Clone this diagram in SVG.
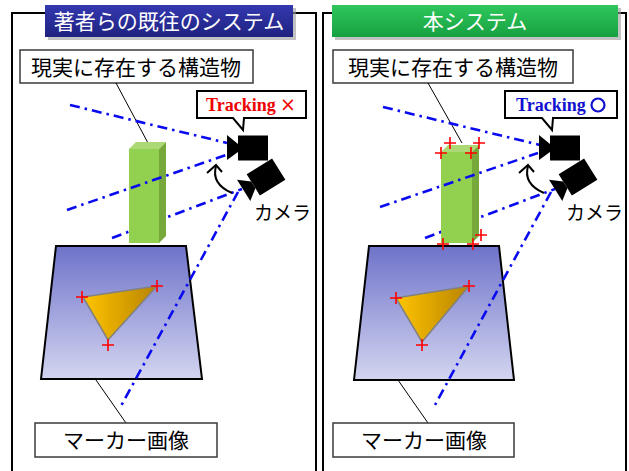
<svg xmlns="http://www.w3.org/2000/svg" width="629" height="471" viewBox="0 0 629 471">
  <style>
    .panel { fill: #ffffff; stroke: #000000; stroke-width: 2; }
    .label { fill: #ffffff; stroke: #3a3a3a; stroke-width: 1.5; }
    .jp { font-family: "Noto Sans CJK JP", "Noto Sans", sans-serif; fill: #000000; }
    .title { font-family: "Noto Sans CJK JP", "Noto Sans", sans-serif; fill: #ffffff; font-size: 21px; }
    .leader { stroke: #000000; stroke-width: 1; fill: none; }
    .ray { stroke: #0a0af0; stroke-width: 2.6; fill: none; stroke-dasharray: 10 5 2.5 5; }
    .cross { stroke: #ff0000; stroke-width: 1.6; fill: none; }
    .callout { fill: #ffffff; stroke: #000000; stroke-width: 2; stroke-linejoin: miter; }
    .track { font-family: "Liberation Serif", serif; font-weight: bold; font-size: 18px; }
    .sym { font-family: "DejaVu Sans", sans-serif; font-size: 19px; }
    .turn { stroke: #000000; stroke-width: 2; fill: none; }
  </style>
  <defs>
    <linearGradient id="markerFill" x1="0" y1="0" x2="0" y2="1">
      <stop offset="0" stop-color="#6f73c9"/>
      <stop offset="1" stop-color="#d3d5f0"/>
    </linearGradient>
    <linearGradient id="triFill" x1="0" y1="0" x2="1" y2="0">
      <stop offset="0" stop-color="#ffc400"/>
      <stop offset="1" stop-color="#b88400"/>
    </linearGradient>
    <linearGradient id="blueBanner" x1="0" y1="0" x2="0" y2="1">
      <stop offset="0" stop-color="#3438b0"/>
      <stop offset="1" stop-color="#1f2280"/>
    </linearGradient>
    <linearGradient id="greenBanner" x1="0" y1="0" x2="0" y2="1">
      <stop offset="0" stop-color="#2fc75c"/>
      <stop offset="1" stop-color="#17a141"/>
    </linearGradient>
    <!-- video camera, centred on its body, lens facing left -->
    <g id="cam">
      <rect x="-15" y="-12.5" width="30" height="25" fill="#000000"/>
      <polygon points="-26,-13 -15,-4 -15,4 -26,12" fill="#000000"/>
    </g>
    <g id="crossMark">
      <path class="cross" d="M-6,0 H6 M0,-6 V6"/>
    </g>
  </defs>

  <!-- ===== Left panel ===== -->
  <g id="panel-left">
    <rect class="panel" x="12" y="13" width="304" height="470"/>
    <rect x="48" y="8" width="248" height="32" fill="#9a9a9a" opacity="0.6"/>
    <rect x="45" y="5" width="248" height="32" fill="url(#blueBanner)"/>
    <text class="title" x="169" y="29" text-anchor="middle">著者らの既往のシステム</text>
  </g>

  <g id="structure-label-left">
    <rect class="label" x="20" y="50" width="233" height="33"/>
    <text class="jp" x="136" y="75" font-size="21" text-anchor="middle">現実に存在する構造物</text>
  </g>

  <g id="connectors-left">
    <line class="leader" x1="116" y1="83" x2="148" y2="143"/>
    <line class="leader" x1="82" y1="360" x2="126" y2="423"/>
    <line class="ray" x1="70" y1="105" x2="227" y2="143"/>
    <line class="ray" x1="112" y1="238" x2="242" y2="189"/>
  </g>

  <g id="pillar-left">
    <polygon points="129,149 136,142 166,142 159,149" fill="#acd976"/>
    <polygon points="159,149 166,142 166,236 159,243" fill="#76a83c"/>
    <rect x="129" y="149" width="30" height="94" fill="#92d050"/>
  </g>

  <g id="ray-left-over">
    <line class="ray" x1="67" y1="210" x2="226" y2="155"/>
  </g>

  <g id="marker-left">
    <polygon points="56,246 186,246 202,379 41,379" fill="url(#markerFill)" stroke="#000000" stroke-width="2"/>
    <polygon points="83,297 157,286 108,340" fill="url(#triFill)" stroke="#808080" stroke-width="1.5"/>
    <use href="#crossMark" x="82" y="297"/>
    <use href="#crossMark" x="157" y="286"/>
    <use href="#crossMark" x="108" y="345"/>
  </g>

  <g id="ray-left-low">
    <line class="ray" x1="238" y1="192" x2="121" y2="406"/>
  </g>

  <g id="marker-label-left">
    <rect class="label" x="35" y="423" width="182" height="34"/>
    <text class="jp" x="126" y="448" font-size="21" text-anchor="middle">マーカー画像</text>
  </g>

  <g id="camera-left">
    <use href="#cam" transform="translate(253,148)"/>
    <use href="#cam" transform="translate(266,177) rotate(-32)"/>
    <path class="turn" d="M232,193 Q211,184 216,166"/>
    <path class="turn" d="M207,173 L216,165 L222,172"/>
    <text class="jp" x="254" y="220" font-size="19">カメラ</text>
  </g>

  <g id="callout-left">
    <path class="callout" d="M197,91 H306 V118 H244 L243,130 L233,118 H197 Z"/>
    <text class="track" x="206" y="111" fill="#ee0000">Tracking</text>
    <text class="sym" x="280" y="111" fill="#ee0000">×</text>
  </g>

  <!-- ===== Right panel ===== -->
  <g id="panel-right">
    <rect class="panel" x="323" y="13" width="303" height="470"/>
    <rect x="335" y="8" width="286" height="32" fill="#9a9a9a" opacity="0.6"/>
    <rect x="332" y="5" width="286" height="32" fill="url(#greenBanner)"/>
    <text class="title" x="475" y="29" text-anchor="middle">本システム</text>
  </g>

  <g id="structure-label-right">
    <rect class="label" x="333" y="50" width="240" height="33"/>
    <text class="jp" x="453" y="75" font-size="21" text-anchor="middle">現実に存在する構造物</text>
  </g>

  <g id="connectors-right">
    <line class="leader" x1="428" y1="83" x2="462" y2="143"/>
    <line class="leader" x1="384" y1="360" x2="428" y2="423"/>
    <line class="ray" x1="383" y1="107" x2="540" y2="145"/>
    <line class="ray" x1="425" y1="238" x2="555" y2="189"/>
  </g>

  <g id="pillar-right">
    <polygon points="441,152 448,145 479,145 472,152" fill="#acd976"/>
    <polygon points="472,152 479,145 479,236 472,243" fill="#76a83c"/>
    <rect x="441" y="152" width="31" height="91" fill="#92d050"/>
  </g>

  <g id="ray-right-over">
    <line class="ray" x1="380" y1="207" x2="538" y2="153"/>
  </g>

  <g id="pillar-right-points">
    <use href="#crossMark" x="450" y="143"/>
    <use href="#crossMark" x="479" y="143"/>
    <use href="#crossMark" x="441" y="153"/>
    <use href="#crossMark" x="471" y="153"/>
    <use href="#crossMark" x="481" y="235"/>
  </g>

  <g id="marker-right">
    <polygon points="369,246 499,246 514,380 354,380" fill="url(#markerFill)" stroke="#000000" stroke-width="2"/>
    <polygon points="396,298 469,286 422,342" fill="url(#triFill)" stroke="#808080" stroke-width="1.5"/>
    <use href="#crossMark" x="396" y="298"/>
    <use href="#crossMark" x="469" y="286"/>
    <use href="#crossMark" x="422" y="345"/>
    <use href="#crossMark" x="443" y="244"/>
    <use href="#crossMark" x="473" y="244"/>
  </g>

  <g id="ray-right-low">
    <line class="ray" x1="551" y1="192" x2="435" y2="405"/>
  </g>

  <g id="marker-label-right">
    <rect class="label" x="333" y="423" width="181" height="34"/>
    <text class="jp" x="424" y="448" font-size="21" text-anchor="middle">マーカー画像</text>
  </g>

  <g id="camera-right">
    <use href="#cam" transform="translate(565,148)"/>
    <use href="#cam" transform="translate(578,177) rotate(-32)"/>
    <path class="turn" d="M544,193 Q523,184 528,166"/>
    <path class="turn" d="M519,173 L528,165 L534,172"/>
    <text class="jp" x="566" y="220" font-size="19">カメラ</text>
  </g>

  <g id="callout-right">
    <path class="callout" d="M505,91 H617 V118 H553 L552,130 L542,118 H505 Z"/>
    <text class="track" x="516" y="111" fill="#1010d0">Tracking</text>
    <circle cx="598" cy="105" r="6.5" fill="none" stroke="#1010d0" stroke-width="2.2"/>
  </g>
</svg>
